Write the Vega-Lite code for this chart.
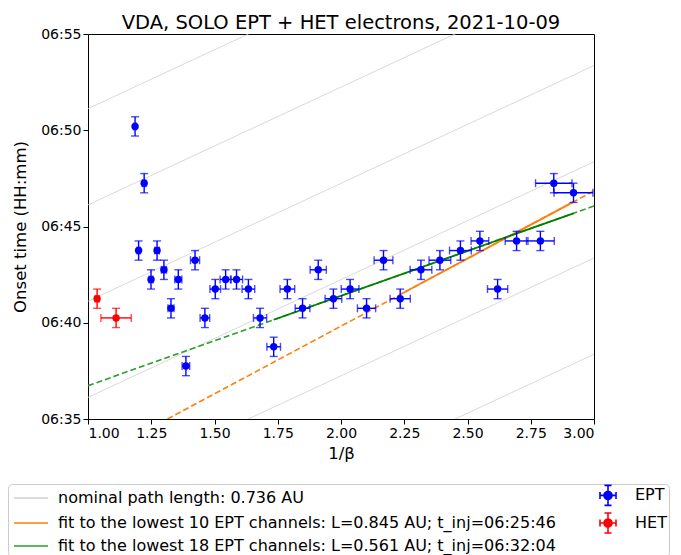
{
  "$schema": "https://vega.github.io/schema/vega-lite/v6.json",
  "width": 506,
  "height": 385,
  "padding": {"left": 7, "top": 12, "right": 4, "bottom": 5},
  "title": {"text": "VDA, SOLO EPT + HET electrons, 2021-10-09", "fontSize": 19.5, "font": "DejaVu Sans", "fontWeight": "normal", "color": "black", "offset": -6},
  "config": {
    "font": "DejaVu Sans",
    "view": {"stroke": "black", "strokeWidth": 1},
    "axis": {"grid": false, "domain": false, "tickColor": "black", "tickSize": 5, "tickWidth": 1, "labelFont": "DejaVu Sans", "labelFontSize": 14, "labelColor": "black", "titleFont": "DejaVu Sans", "titleFontSize": 16.5, "titleFontWeight": "normal", "titleColor": "black"}
  },
  "datasets": {
    "points": [
      {"series": "EPT", "x": 1.186, "xe": 0.005, "t": 50.2, "te": 0.5},
      {"series": "EPT", "x": 1.200, "xe": 0.006, "t": 43.75, "te": 0.5},
      {"series": "EPT", "x": 1.222, "xe": 0.007, "t": 47.25, "te": 0.5},
      {"series": "EPT", "x": 1.249, "xe": 0.008, "t": 42.25, "te": 0.5},
      {"series": "EPT", "x": 1.273, "xe": 0.009, "t": 43.75, "te": 0.5},
      {"series": "EPT", "x": 1.300, "xe": 0.010, "t": 42.75, "te": 0.5},
      {"series": "EPT", "x": 1.328, "xe": 0.012, "t": 40.75, "te": 0.5},
      {"series": "EPT", "x": 1.357, "xe": 0.014, "t": 42.25, "te": 0.5},
      {"series": "EPT", "x": 1.387, "xe": 0.015, "t": 37.75, "te": 0.5},
      {"series": "EPT", "x": 1.423, "xe": 0.018, "t": 43.25, "te": 0.5},
      {"series": "EPT", "x": 1.462, "xe": 0.019, "t": 40.25, "te": 0.5},
      {"series": "EPT", "x": 1.503, "xe": 0.021, "t": 41.75, "te": 0.5},
      {"series": "EPT", "x": 1.544, "xe": 0.022, "t": 42.25, "te": 0.5},
      {"series": "EPT", "x": 1.587, "xe": 0.024, "t": 42.25, "te": 0.5},
      {"series": "EPT", "x": 1.634, "xe": 0.025, "t": 41.75, "te": 0.5},
      {"series": "EPT", "x": 1.680, "xe": 0.026, "t": 40.25, "te": 0.5},
      {"series": "EPT", "x": 1.734, "xe": 0.027, "t": 38.75, "te": 0.5},
      {"series": "EPT", "x": 1.788, "xe": 0.029, "t": 41.75, "te": 0.5},
      {"series": "EPT", "x": 1.848, "xe": 0.029, "t": 40.75, "te": 0.5},
      {"series": "EPT", "x": 1.910, "xe": 0.032, "t": 42.75, "te": 0.5},
      {"series": "EPT", "x": 1.970, "xe": 0.033, "t": 41.25, "te": 0.5},
      {"series": "EPT", "x": 2.036, "xe": 0.035, "t": 41.75, "te": 0.5},
      {"series": "EPT", "x": 2.101, "xe": 0.036, "t": 40.75, "te": 0.5},
      {"series": "EPT", "x": 2.168, "xe": 0.037, "t": 43.25, "te": 0.5},
      {"series": "EPT", "x": 2.234, "xe": 0.040, "t": 41.25, "te": 0.5},
      {"series": "EPT", "x": 2.316, "xe": 0.043, "t": 42.75, "te": 0.5},
      {"series": "EPT", "x": 2.391, "xe": 0.043, "t": 43.25, "te": 0.5},
      {"series": "EPT", "x": 2.472, "xe": 0.043, "t": 43.75, "te": 0.5},
      {"series": "EPT", "x": 2.549, "xe": 0.035, "t": 44.25, "te": 0.5},
      {"series": "EPT", "x": 2.619, "xe": 0.040, "t": 41.75, "te": 0.5},
      {"series": "EPT", "x": 2.694, "xe": 0.045, "t": 44.25, "te": 0.5},
      {"series": "EPT", "x": 2.788, "xe": 0.055, "t": 44.25, "te": 0.5},
      {"series": "EPT", "x": 2.841, "xe": 0.072, "t": 47.25, "te": 0.5},
      {"series": "EPT", "x": 2.919, "xe": 0.077, "t": 46.75, "te": 0.5},
      {"series": "HET", "x": 1.036, "xe": 0.008, "t": 41.25, "te": 0.5},
      {"series": "HET", "x": 1.111, "xe": 0.060, "t": 40.25, "te": 0.5}
    ],
    "nominal": [
      {"series": "nominal path length: 0.736 AU", "tinj": "06:20", "x": 1, "t": 26.121},
      {"series": "nominal path length: 0.736 AU", "tinj": "06:20", "x": 3, "t": 38.363},
      {"series": "nominal path length: 0.736 AU", "tinj": "06:25", "x": 1, "t": 31.121},
      {"series": "nominal path length: 0.736 AU", "tinj": "06:25", "x": 3, "t": 43.363},
      {"series": "nominal path length: 0.736 AU", "tinj": "06:30", "x": 1, "t": 36.121},
      {"series": "nominal path length: 0.736 AU", "tinj": "06:30", "x": 3, "t": 48.363},
      {"series": "nominal path length: 0.736 AU", "tinj": "06:35", "x": 1, "t": 41.121},
      {"series": "nominal path length: 0.736 AU", "tinj": "06:35", "x": 3, "t": 53.363},
      {"series": "nominal path length: 0.736 AU", "tinj": "06:40", "x": 1, "t": 46.121},
      {"series": "nominal path length: 0.736 AU", "tinj": "06:40", "x": 3, "t": 58.363},
      {"series": "nominal path length: 0.736 AU", "tinj": "06:45", "x": 1, "t": 51.121},
      {"series": "nominal path length: 0.736 AU", "tinj": "06:45", "x": 3, "t": 63.363}
    ],
    "fitlines": [
      {"series": "fit to the lowest 10 EPT channels: L=0.845 AU; t_inj=06:25:46", "x": 1, "t": 32.794},
      {"series": "fit to the lowest 10 EPT channels: L=0.845 AU; t_inj=06:25:46", "x": 3, "t": 46.850},
      {"series": "fit to the lowest 18 EPT channels: L=0.561 AU; t_inj=06:32:04", "x": 1, "t": 36.732},
      {"series": "fit to the lowest 18 EPT channels: L=0.561 AU; t_inj=06:32:04", "x": 3, "t": 46.064}
    ],
    "fitsegments": [
      {"series": "fit to the lowest 10 EPT channels: L=0.845 AU; t_inj=06:25:46", "x": 2.234, "t": 41.467},
      {"series": "fit to the lowest 10 EPT channels: L=0.845 AU; t_inj=06:25:46", "x": 2.919, "t": 46.281},
      {"series": "fit to the lowest 18 EPT channels: L=0.561 AU; t_inj=06:32:04", "x": 1.734, "t": 40.157},
      {"series": "fit to the lowest 18 EPT channels: L=0.561 AU; t_inj=06:32:04", "x": 2.919, "t": 45.686}
    ]
  },
  "encoding": {
    "x": {"field": "x", "type": "quantitative", "title": "1/β", "scale": {"domain": [1, 3], "nice": false, "zero": false}, "axis": {"values": [1, 1.25, 1.5, 1.75, 2, 2.25, 2.5, 2.75, 3], "format": ".2f", "titlePadding": 5}},
    "y": {"field": "t", "type": "quantitative", "title": "Onset time (HH:mm)", "scale": {"domain": [35, 55], "nice": false, "zero": false}, "axis": {"values": [35, 40, 45, 50, 55], "labelExpr": "'06:' + datum.value", "titlePadding": 12}}
  },
  "layer": [
    {
      "data": {"name": "nominal"},
      "mark": {"type": "line", "clip": true, "strokeWidth": 0.8},
      "encoding": {
        "detail": {"field": "tinj"},
        "stroke": {
          "field": "series", "type": "nominal",
          "scale": {"domain": ["nominal path length: 0.736 AU", "fit to the lowest 10 EPT channels: L=0.845 AU; t_inj=06:25:46", "fit to the lowest 18 EPT channels: L=0.561 AU; t_inj=06:32:04", "EPT", "HET"], "range": ["#cfcfcf", "#ff7f0e", "#2ca02c", "#0000ff", "#ff0000"]},
          "legend": {"title": null, "orient": "none", "legendX": -80, "legendY": 450, "columns": 2, "columnPadding": 31, "rowPadding": 0, "symbolSize": 256, "symbolOffset": 12, "labelOffset": 18, "labelFont": "DejaVu Sans", "labelFontSize": 16, "labelColor": "black", "labelLimit": 0, "strokeColor": "#cccccc", "cornerRadius": 4, "fillColor": "white", "padding": 2, "symbolStrokeWidth": 1.6, "symbolOpacity": 1, "symbolDash": [1, 0]}
        }
      }
    },
    {
      "data": {"name": "fitlines"},
      "mark": {"type": "line", "clip": true, "strokeWidth": 1.6, "strokeDash": [6, 3]},
      "encoding": {
        "stroke": {"field": "series", "type": "nominal"}
      }
    },
    {
      "data": {"name": "fitsegments"},
      "mark": {"type": "line", "clip": true, "strokeWidth": 1.8},
      "encoding": {
        "color": {"field": "series", "type": "nominal", "legend": null,
          "scale": {"domain": ["EPT", "HET", "fit to the lowest 10 EPT channels: L=0.845 AU; t_inj=06:25:46", "fit to the lowest 18 EPT channels: L=0.561 AU; t_inj=06:32:04"], "range": ["#0000ff", "#ff0000", "#ff7f0e", "#008000"]}}
      }
    },
    {
      "data": {"name": "points"},
      "mark": {"type": "errorbar", "ticks": {"size": 8, "thickness": 1.4}, "thickness": 1.4},
      "encoding": {
        "xError": {"field": "xe"},
        "color": {"field": "series", "type": "nominal", "legend": null}
      }
    },
    {
      "data": {"name": "points"},
      "mark": {"type": "errorbar", "ticks": {"size": 8, "thickness": 1.4}, "thickness": 1.4},
      "encoding": {
        "yError": {"field": "te"},
        "color": {"field": "series", "type": "nominal", "legend": null}
      }
    },
    {
      "data": {"name": "points"},
      "mark": {"type": "point", "filled": true, "size": 55, "opacity": 1},
      "encoding": {
        "color": {"field": "series", "type": "nominal", "legend": null}
      }
    },
    {
      "data": {"name": "points"},
      "mark": {"type": "point", "opacity": 0},
      "encoding": {
        "stroke": {"field": "series", "type": "nominal"},
        "shape": {"field": "series", "type": "nominal",
          "scale": {"domain": ["nominal path length: 0.736 AU", "fit to the lowest 10 EPT channels: L=0.845 AU; t_inj=06:25:46", "fit to the lowest 18 EPT channels: L=0.561 AU; t_inj=06:32:04", "EPT", "HET"], "range": ["M-2.125,0H2.125", "M-2.125,0H2.125", "M-2.125,0H2.125", "M0,-1.25V1.25M-1,0H1M-0.44,-1.25H0.44M-0.44,1.25H0.44M-1,-0.44V0.44M1,-0.44V0.44M0.5,0A0.5,0.5,0,1,1,-0.5,0A0.5,0.5,0,1,1,0.5,0ZM0.34,0A0.34,0.34,0,1,1,-0.34,0A0.34,0.34,0,1,1,0.34,0ZM0.17,0A0.17,0.17,0,1,1,-0.17,0A0.17,0.17,0,1,1,0.17,0ZM0.05,0A0.05,0.05,0,1,1,-0.05,0A0.05,0.05,0,1,1,0.05,0Z", "M0,-1.25V1.25M-1,0H1M-0.44,-1.25H0.44M-0.44,1.25H0.44M-1,-0.44V0.44M1,-0.44V0.44M0.5,0A0.5,0.5,0,1,1,-0.5,0A0.5,0.5,0,1,1,0.5,0ZM0.34,0A0.34,0.34,0,1,1,-0.34,0A0.34,0.34,0,1,1,0.34,0ZM0.17,0A0.17,0.17,0,1,1,-0.17,0A0.17,0.17,0,1,1,0.17,0ZM0.05,0A0.05,0.05,0,1,1,-0.05,0A0.05,0.05,0,1,1,0.05,0Z"]},
          "legend": {"title": null, "orient": "none", "legendX": -80, "legendY": 450, "columns": 2, "columnPadding": 31, "rowPadding": 0, "symbolSize": 256, "symbolOffset": 12, "labelOffset": 18, "labelFont": "DejaVu Sans", "labelFontSize": 16, "labelColor": "black", "labelLimit": 0, "strokeColor": "#cccccc", "cornerRadius": 4, "fillColor": "white", "padding": 2, "symbolStrokeWidth": 1.6, "symbolOpacity": 1, "symbolDash": [1, 0]}}
      }
    }
  ]
}
